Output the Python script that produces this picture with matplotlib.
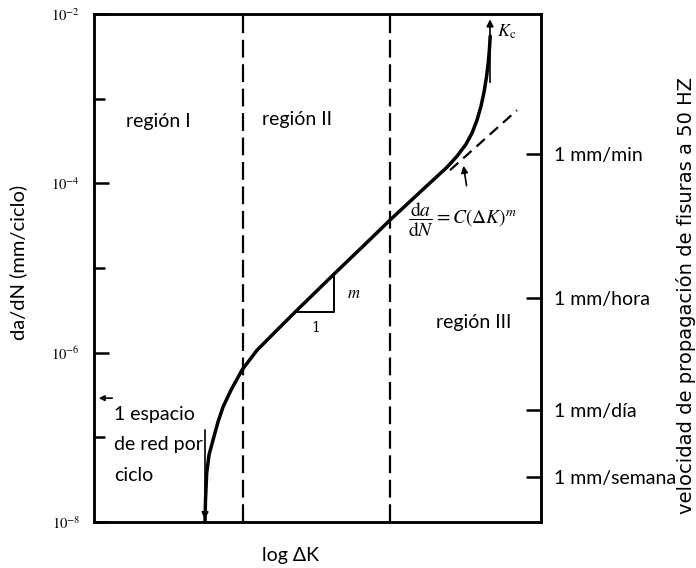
import matplotlib
matplotlib.use("Agg")
import matplotlib.pyplot as plt
import numpy as np

plt.rcParams['font.family'] = ['Lato', 'DejaVu Sans']
plt.rcParams['mathtext.fontset'] = 'stix'

# ---- data ----
# main crack-growth curve: x = log dK (arbitrary units), y = da/dN (mm/cycle)
curve_logdK = [1.11, 1.115, 1.127, 1.15, 1.19, 1.24, 1.29, 1.37, 1.48, 1.63, 1.84,
               2.01, 2.40, 2.66, 2.96, 3.26, 3.53, 3.63, 3.72, 3.78, 3.83, 3.87,
               3.90, 3.925, 3.943, 3.955, 3.962]
curve_dadN = [1.0e-8, 1.82e-8, 3.79e-8, 6.18e-8, 9.29e-8, 1.52e-7, 2.28e-7, 3.61e-7,
              6.24e-7, 1.07e-6, 1.90e-6, 3.01e-6, 8.47e-6, 1.67e-5, 3.68e-5, 7.87e-5,
              1.55e-4, 2.09e-4, 2.90e-4, 3.92e-4, 5.57e-4, 8.15e-4, 1.19e-3, 1.80e-3,
              2.70e-3, 3.94e-3, 5.47e-3]

# Paris-law extrapolation (dashed)
paris_logdK = [3.56, 4.23]
paris_dadN = [1.43e-4, 7.31e-4]

# region boundaries
boundaries = [1.49, 2.96]

# slope triangle
tri_logdK = [2.01, 2.40, 2.40]
tri_dadN = [3.01e-6, 3.01e-6, 8.47e-6]

# left axis ticks
left_major = [1e-8, 1e-6, 1e-4, 1e-2]
left_major_labels = [r'$10^{-8}$', r'$10^{-6}$', r'$10^{-4}$', r'$10^{-2}$']
left_minor = [1e-7, 1e-5, 1e-3]

# right axis: crack growth rate at 50 Hz
rate_vals = [2.2e-4, 4.4e-6, 2.1e-7, 3.4e-8]
rate_labels = ['1 mm/min', '1 mm/hora', '1 mm/día', '1 mm/semana']

lattice_spacing = 2.9e-7
Kc_logdK = 3.96

# ---- figure ----
fig = plt.figure(figsize=(6.96, 5.68), dpi=100)
ax = fig.add_axes([94/696, 46/568, 447/696, 508/568])
ax.set_yscale('log')
ax.set_xlim(0, 4.47)
ax.set_ylim(1e-8, 1e-2)
ax.set_xticks([])
ax.set_yticks(left_major)
ax.set_yticklabels(left_major_labels, fontsize=10.5)
ax.set_yticks(left_minor, minor=True)
ax.yaxis.set_minor_formatter(matplotlib.ticker.NullFormatter())
ax.tick_params(axis='y', which='major', direction='in', length=11, width=1.8, pad=10)
ax.tick_params(axis='y', which='minor', direction='in', length=8, width=1.8)
for s in ax.spines.values():
    s.set_linewidth(1.8)

ax2 = ax.twinx()
ax2.set_yscale('log')
ax2.set_ylim(1e-8, 1e-2)
ax2.set_yticks(rate_vals)
ax2.set_yticklabels(rate_labels, fontsize=14)
ax2.minorticks_off()
ax2.tick_params(axis='y', which='both', direction='in', length=11, width=1.8, pad=9)
for s in ax2.spines.values():
    s.set_linewidth(1.8)

# curve
ax.plot(curve_logdK, curve_dadN, color='black', lw=2.5, solid_capstyle='round',
        solid_joinstyle='round')
ax.plot(paris_logdK, paris_dadN, color='black', lw=1.6, ls=(0, (5, 3)))
for b in boundaries:
    ax.axvline(b, color='black', lw=1.6, ls=(0, (8, 3)))
ax.plot(tri_logdK, tri_dadN, color='black', lw=1.4)
ax.text(2.53, 10**-5.30, r'$m$', fontsize=12, ha='left', va='center')
ax.text(2.22, 10**-5.71, '1', fontsize=10, ha='center', va='center', family='serif')

arrow = dict(arrowstyle='-|>', color='black', lw=1.2, mutation_scale=10)
# bottom arrow (threshold)
ax.annotate('', xy=(curve_logdK[0], 1.0e-8), xytext=(curve_logdK[0], 10**-6.88),
            arrowprops=arrow)
# Kc asymptote arrow
ax.annotate('', xy=(Kc_logdK, 10**-2.03), xytext=(Kc_logdK, 10**-2.84),
            arrowprops=arrow)
ax.text(4.03, 10**-2.21, r'$K_\mathrm{c}$', fontsize=13, ha='left', va='center')
# formula arrow
ax.annotate('', xy=(3.69, 10**-3.76), xytext=(3.73, 10**-4.06),
            arrowprops=arrow)
ax.text(3.14, 10**-4.43, r'$\dfrac{\mathrm{d}a}{\mathrm{d}N} = C(\Delta K)^m$',
        fontsize=14, ha='left', va='center')
# lattice spacing arrow on left axis
ax.annotate('', xy=(0.02, lattice_spacing), xytext=(0.21, lattice_spacing),
            arrowprops=dict(arrowstyle='-|>', color='black', lw=1.2, mutation_scale=8))

# region labels
ax.text(0.143, 0.789, 'región I', transform=ax.transAxes, fontsize=14, ha='center', va='center')
ax.text(0.454, 0.793, 'región II', transform=ax.transAxes, fontsize=14, ha='center', va='center')
ax.text(0.850, 0.392, 'región III', transform=ax.transAxes, fontsize=14, ha='center', va='center')
ax.text(0.045, 0.152, '1 espacio\nde red por\nciclo', transform=ax.transAxes, fontsize=14,
        ha='left', va='center', linespacing=1.95)

# axis labels
fig.text(18/696, 1 - 262/568, 'da/dN (mm/ciclo)', rotation=90, fontsize=14.5,
         ha='center', va='center')
fig.text(686/696, 1 - 295/568, 'velocidad de propagación de fisuras a 50 HZ', rotation=90,
         fontsize=14, ha='center', va='center', family=['DejaVu Sans'])
fig.text(290/696, 1 - 556/568, 'log ΔK', fontsize=14, ha='center', va='center')

fig.savefig('out.png', dpi=100)
